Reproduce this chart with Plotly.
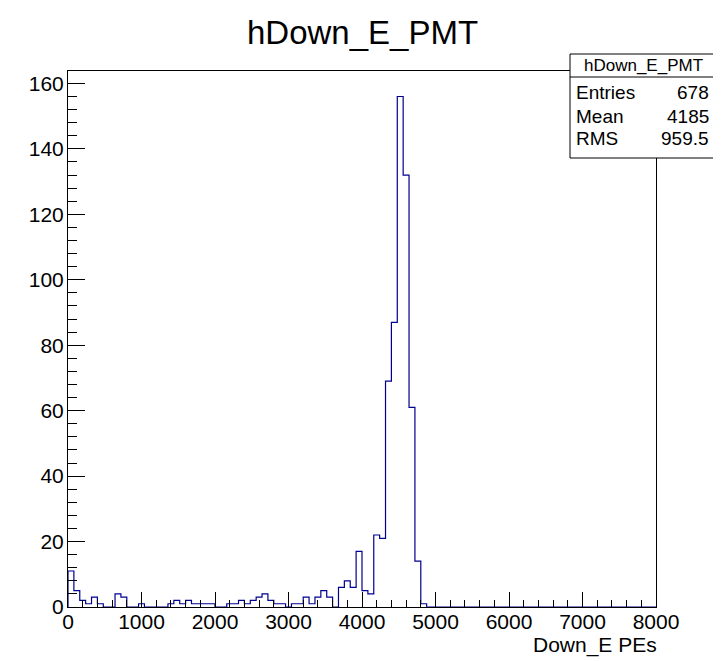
import plotly.graph_objects as go

# ---------------- data ----------------
hist_title = "hDown_E_PMT"
x_title = "Down_E PEs"
bin_width = 80
x_min, x_max = 0, 8000
counts = [
    11, 5, 2, 1, 3, 1, 0, 0, 4, 3,
    0, 0, 1, 0, 0, 0, 0, 1, 2, 1,
    2, 1, 1, 1, 1, 0, 0, 1, 1, 2,
    1, 2, 3, 4, 2, 1, 1, 0, 1, 1,
    3, 1, 3, 5, 3, 0, 6, 8, 6, 17,
    5, 4, 22, 21, 69, 87, 156, 132, 61, 14,
    1,
] + [0] * 39
x_tick_vals = [0, 1000, 2000, 3000, 4000, 5000, 6000, 7000, 8000]
y_tick_vals = [0, 20, 40, 60, 80, 100, 120, 140, 160]
stats_labels = ["Entries", "Mean", "RMS"]
stats_values = ["678", "4185", "959.5"]

# ---------------- geometry (screenshot pixel coords) ----------------
SW, SH = 721, 661          # browser window
OFF = 8                    # default page body margin
W, H = SW - OFF, SH - OFF  # figure size so that it fits the window
L, R, T, B = 68, 656, 71, 607  # frame edges in screenshot coords


def px(xp):
    return (xp - L) / (R - L)


def py(yp):
    return (B - yp) / (B - T)


edges = [x_min + i * bin_width for i in range(len(counts) + 1)]
xs = [edges[0]] + edges
ys = [0] + counts + [counts[-1]]

FONT = "Liberation Sans, Arial, Helvetica, sans-serif"

fig = go.Figure()
fig.add_trace(go.Scatter(
    x=xs, y=ys, mode="lines", line_shape="hv",
    line=dict(color="#000090", width=1.2), hoverinfo="skip", showlegend=False,
))

axis_common = dict(
    showgrid=False, zeroline=False, showline=True, linecolor="black", linewidth=1,
    mirror=True, ticks="inside", tickcolor="black", tickwidth=1,
    tickfont=dict(family=FONT, size=21, color="black"),
)
fig.update_xaxes(
    range=[x_min, x_max], tickmode="array", tickvals=x_tick_vals, ticklen=15,
    minor=dict(dtick=200, ticklen=7, ticks="inside", tickcolor="black"),
    ticklabelstandoff=-4, **axis_common,
)
fig.update_yaxes(
    range=[0, 163.8], tickmode="array", tickvals=y_tick_vals, ticklen=17,
    minor=dict(dtick=4, ticklen=9, ticks="inside", tickcolor="black"),
    ticklabelstandoff=-1, **axis_common,
)

shapes = []
annotations = []

# title
annotations.append(dict(text=hist_title, x=px(362), y=py(32), xref="paper", yref="paper",
                        showarrow=False, xanchor="center", yanchor="middle",
                        font=dict(family=FONT, size=33, color="black")))
# x-axis title
annotations.append(dict(text=x_title, x=px(659), y=py(645), xref="paper", yref="paper",
                        showarrow=False, xanchor="right", yanchor="middle",
                        font=dict(family=FONT, size=21, color="black")))

# stats box
bx0, bx1, by0, by1, bsep = 570, 716, 54, 158, 77
shapes.append(dict(type="rect", xref="paper", yref="paper", x0=px(bx0), x1=px(bx1),
                   y0=py(by1), y1=py(by0), line=dict(color="black", width=1),
                   fillcolor="white", layer="above"))
shapes.append(dict(type="line", xref="paper", yref="paper", x0=px(bx0), x1=px(bx1),
                   y0=py(bsep), y1=py(bsep), line=dict(color="black", width=1), layer="above"))
annotations.append(dict(text=hist_title, x=px((bx0 + bx1) / 2), y=py((by0 + bsep) / 2),
                        xref="paper", yref="paper", showarrow=False, xanchor="center",
                        yanchor="middle", font=dict(family=FONT, size=17, color="black")))
row_y = [93, 116, 138.5]
for lab, val, yy in zip(stats_labels, stats_values, row_y):
    annotations.append(dict(text=lab, x=px(bx0 + 4), y=py(yy), xref="paper", yref="paper",
                            showarrow=False, xanchor="left", yanchor="middle",
                            font=dict(family=FONT, size=19, color="black")))
    annotations.append(dict(text=val, x=px(bx1 - 5), y=py(yy), xref="paper", yref="paper",
                            showarrow=False, xanchor="right", yanchor="middle",
                            font=dict(family=FONT, size=19, color="black")))

fig.update_layout(
    width=W, height=H, autosize=False,
    margin=dict(l=L - OFF, r=SW - R, t=T - OFF, b=SH - B, pad=0),
    paper_bgcolor="white", plot_bgcolor="white",
    shapes=shapes, annotations=annotations, showlegend=False,
)

fig.write_html("out.html")
